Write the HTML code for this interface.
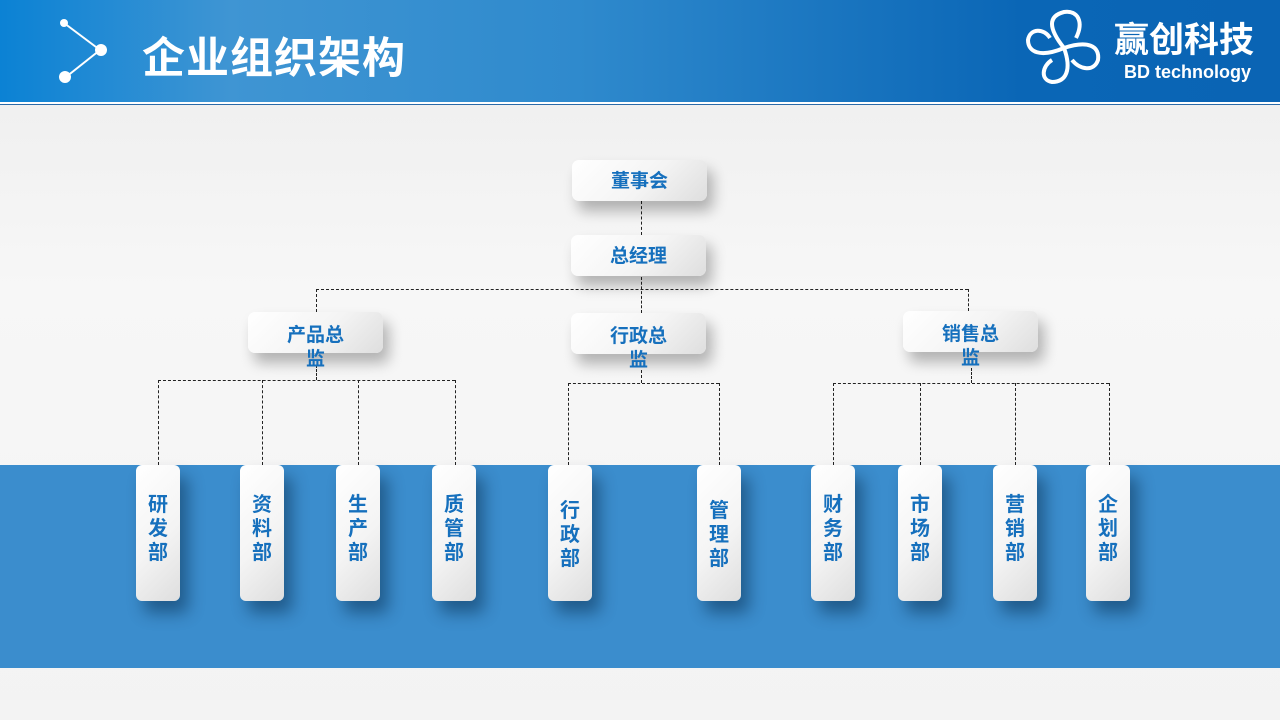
<!DOCTYPE html>
<html><head><meta charset="utf-8"><style>
*{margin:0;padding:0;box-sizing:border-box}
body{width:1280px;height:720px;overflow:hidden;position:relative;background:linear-gradient(180deg,#ececec 0%,#f7f7f7 40%,#f3f3f3 100%);font-family:"Liberation Sans","Noto Sans CJK SC",sans-serif}
.hdr{position:absolute;left:0;top:0;width:1280px;height:102px;background:linear-gradient(90deg,#0b82d4 0%,#3f95d3 18%,#2f8acd 45%,#0a66b6 80%,#0a64b4 100%)}
.hl{position:absolute;left:0;top:102px;width:1280px;height:3px;background:#fff;border-bottom:1px solid #2a6aa8}
.title{position:absolute;left:142px;top:24px;color:#fff;font-size:43px;font-weight:bold;letter-spacing:1px}
.band{position:absolute;left:0;top:465px;width:1280px;height:203px;background:#3b8dcd}
.box{position:absolute;background:linear-gradient(135deg,#ffffff 0%,#f4f4f4 55%,#dedede 100%);border-radius:7px;box-shadow:6px 10px 14px rgba(0,0,0,.28);color:#1670bd;font-weight:bold;text-align:center}
.h{width:135px;height:41px;font-size:19px;line-height:41px;padding-top:3px}
.h2{width:135px;height:41px;font-size:19px;line-height:24px;padding-top:12px}
.d{width:44px;height:136px;font-size:20px;line-height:24px;padding-top:28px;border-radius:6px;box-shadow:8px 12px 16px rgba(0,30,60,.45)}
.v{position:absolute;border-left:1px dashed #222;width:0}
.hz{position:absolute;border-top:1px dashed #222;height:0}
</style></head><body>
<div class="hdr"></div><div class="hl"></div>
<svg style="position:absolute;left:50px;top:15px" width="70" height="70">
<line x1="14" y1="8" x2="50" y2="35" stroke="#fff" stroke-width="2"/><line x1="50" y1="35" x2="16" y2="62" stroke="#fff" stroke-width="2"/>
<circle cx="14" cy="8" r="4" fill="#fff"/><circle cx="51" cy="35" r="6" fill="#fff"/><circle cx="15" cy="62" r="6" fill="#fff"/></svg>
<div class="title">企业组织架构</div>
<svg style="position:absolute;left:1018px;top:8px" width="92" height="80" viewBox="0 0 92 80">
<g fill="none" stroke="#fff" stroke-width="4">
<path d="M46 40 C30 20 30 8 46 4 C60 2 66 14 58 30"/>
<path d="M46 40 C70 32 82 38 80 52 C76 64 62 62 54 52"/>
<path d="M46 40 C54 62 48 74 34 74 C22 72 24 58 34 52"/>
<path d="M46 40 C22 50 10 44 10 32 C12 20 26 20 32 30"/>
</g></svg>
<div style="position:absolute;left:1114px;top:19px;color:#fff;font-size:35px;font-weight:bold;line-height:44px">赢创科技</div>
<div style="position:absolute;left:1124px;top:61px;color:#fff;font-size:18px;font-weight:bold;line-height:22px">BD technology</div>
<div class="band"></div>
<!-- connectors -->
<div class="v" style="left:641px;top:201px;height:34px"></div>
<div class="v" style="left:641px;top:277px;height:36px"></div>
<div class="hz" style="left:316px;top:289px;width:652px"></div>
<div class="v" style="left:316px;top:289px;height:23px"></div>
<div class="v" style="left:968px;top:289px;height:22px"></div>
<div class="v" style="left:316px;top:365px;height:15px"></div>
<div class="hz" style="left:158px;top:380px;width:297px"></div>
<div class="v" style="left:158px;top:380px;height:85px"></div>
<div class="v" style="left:262px;top:380px;height:85px"></div>
<div class="v" style="left:358px;top:380px;height:85px"></div>
<div class="v" style="left:455px;top:380px;height:85px"></div>
<div class="v" style="left:641px;top:370px;height:13px"></div>
<div class="hz" style="left:568px;top:383px;width:151px"></div>
<div class="v" style="left:568px;top:383px;height:82px"></div>
<div class="v" style="left:719px;top:383px;height:82px"></div>
<div class="v" style="left:971px;top:368px;height:15px"></div>
<div class="hz" style="left:833px;top:383px;width:276px"></div>
<div class="v" style="left:833px;top:383px;height:82px"></div>
<div class="v" style="left:920px;top:383px;height:82px"></div>
<div class="v" style="left:1015px;top:383px;height:82px"></div>
<div class="v" style="left:1109px;top:383px;height:82px"></div>
<!-- boxes -->
<div class="box h" style="left:572px;top:160px;line-height:38px">董事会</div>
<div class="box h" style="left:571px;top:235px;line-height:38px">总经理</div>
<div class="box h2" style="left:248px;top:312px">产品总<br>监</div>
<div class="box h2" style="left:571px;top:313px">行政总<br>监</div>
<div class="box h2" style="left:903px;top:311px">销售总<br>监</div>
<div class="box d" style="left:136px;top:465px">研<br>发<br>部</div>
<div class="box d" style="left:240px;top:465px">资<br>料<br>部</div>
<div class="box d" style="left:336px;top:465px">生<br>产<br>部</div>
<div class="box d" style="left:432px;top:465px">质<br>管<br>部</div>
<div class="box d" style="left:548px;top:465px;padding-top:34px">行<br>政<br>部</div>
<div class="box d" style="left:697px;top:465px;padding-top:34px">管<br>理<br>部</div>
<div class="box d" style="left:811px;top:465px">财<br>务<br>部</div>
<div class="box d" style="left:898px;top:465px">市<br>场<br>部</div>
<div class="box d" style="left:993px;top:465px">营<br>销<br>部</div>
<div class="box d" style="left:1086px;top:465px">企<br>划<br>部</div>
</body></html>
